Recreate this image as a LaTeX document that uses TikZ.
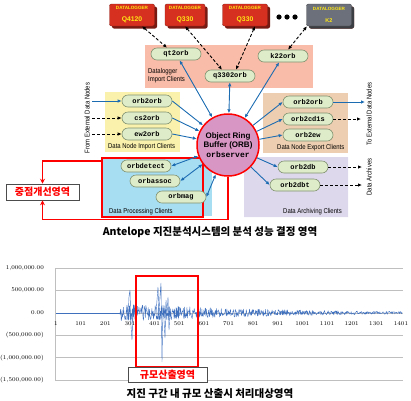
\documentclass[tikz,border=0pt]{standalone}
\usepackage{fontspec}
\usetikzlibrary{arrows.meta,shadows}
\setmonofont{Liberation Mono}
\newfontfamily\krfont{Noto Sans CJK KR}
\newfontfamily\arialfont{Liberation Sans}
\newfontfamily\narrowfont[FakeStretch=0.85]{Liberation Sans}

\definecolor{dlred}{RGB}{214,48,32}
\definecolor{dlgray}{RGB}{108,112,122}
\definecolor{dltext}{RGB}{255,232,20}
\definecolor{salmon}{RGB}{248,188,168}
\definecolor{paleyellow}{RGB}{250,241,172}
\definecolor{peach}{RGB}{238,206,176}
\definecolor{lavender}{RGB}{222,216,236}
\definecolor{skyblue}{RGB}{168,222,242}
\definecolor{pillgreen}{RGB}{222,236,202}
\definecolor{pillborder}{RGB}{128,146,112}
\definecolor{orbfill}{RGB}{216,150,196}
\definecolor{flowblue}{RGB}{28,108,178}
\definecolor{seriesblue}{RGB}{62,112,190}

\begin{document}
\begin{tikzpicture}[x=1pt, y=-1pt,
  dlbox/.style={rounded corners=2pt, fill=dlred, draw=dlred!65!black, line width=0.4pt,
    minimum width=45, minimum height=22, inner sep=0, align=center, text=dltext,
    font=\arialfont\bfseries,
    drop shadow={shadow xshift=2.5pt, shadow yshift=-2.5pt, fill=dlred!55!black, opacity=1}},
  pill/.style={rounded corners=6pt, fill=pillgreen, draw=pillborder, line width=0.6pt,
    minimum width=50, minimum height=12, inner sep=0,
    font=\ttfamily\bfseries\fontsize{7}{7}\selectfont},
  region/.style={font=\narrowfont\fontsize{7}{8}\selectfont, inner sep=0, align=left},
  flow/.style={flowblue, line width=0.9pt, -{Latex[length=4pt,width=3.5pt]}},
  biflow/.style={flowblue, line width=0.9pt, {Latex[length=4pt,width=3.5pt]}-{Latex[length=4pt,width=3.5pt]}},
  dlink/.style={black, line width=0.9pt, dashed, dash pattern=on 3pt off 2pt, -{Latex[length=4pt,width=3.5pt]}},
  bidlink/.style={black, line width=0.9pt, dash pattern=on 3pt off 2pt, {Latex[length=4pt,width=3.5pt]}-{Latex[length=4pt,width=3.5pt]}},
  redline/.style={red, line width=1.1pt, -{Stealth[length=5pt,width=5pt]}},
  focusbox/.style={draw=black!70, fill=white, line width=0.6pt, inner sep=0, text=red,
    font=\krfont\bfseries\fontsize{10}{10}\selectfont},
  title/.style={font=\krfont\bfseries\fontsize{10.5}{11}\selectfont, inner sep=0},
  gridline/.style={black!25, line width=0.6pt},
  axlab/.style={font=\fontsize{5.8}{6}\selectfont, inner sep=0},
  wave/.style={seriesblue, line width=0.4pt, line join=round},
  declare function={env(\t)=(\t<150)?8:8*exp((150-\t)/140);}]

\useasboundingbox (0,0) rectangle (411,400);

% client areas
\fill[salmon] (145,45) rectangle (313,88);
\fill[paleyellow] (105,92) rectangle (180,152);
\fill[peach] (263,93) rectangle (348,153);
\fill[lavender] (253,157) -- (348,157) -- (348,217) -- (244,217) -- (244,170) -- cycle;
\fill[skyblue] (103,157) rectangle (212,216);
\draw[red, line width=1.2pt] (102,158) rectangle (203,217);

\node[region, anchor=north west] (dlimp) at (148,68) {Datalogger\\Import Clients};
\node[region, anchor=west] (nodeimp) at (108,147) {Data Node Import Clients};
\node[region, anchor=west] (nodeexp) at (277,148) {Data Node Export Clients};
\node[region, anchor=west] (archcl) at (283,212) {Data Archiving Clients};
\node[region, anchor=west] (proccl) at (109,212) {Data Processing Clients};
\node[region, rotate=90] (fromext) at (87,118) {From External Data Nodes};
\node[region, rotate=90] (toext) at (369,114) {To External Data Nodes};
\node[region, rotate=90] (archives) at (369,177) {Data Archives};

% dataloggers
\node[dlbox] (q4120) at (132,15) {{\fontsize{4.6}{5.5}\selectfont DATALOGGER}\\{\fontsize{6.8}{8}\selectfont Q4120}};
\node[dlbox, minimum width=40] (q330a) at (185,15) {{\fontsize{4.6}{5.5}\selectfont DATALOGGER}\\{\fontsize{6.8}{8}\selectfont Q330}};
\node[dlbox] (q330b) at (245,15) {{\fontsize{4.6}{5.5}\selectfont DATALOGGER}\\{\fontsize{6.8}{8}\selectfont Q330}};
\node[dlbox, fill=dlgray, draw=dlgray!60!black,
  drop shadow={shadow xshift=2.5pt, shadow yshift=-2.5pt, fill=dlgray!55!black, opacity=1}]
  (k2) at (329,15) {{\fontsize{4.6}{5.5}\selectfont DATALOGGER}\\{\fontsize{5.5}{8}\selectfont K2}};
\foreach \i in {0,1,2}
  \fill[black] (279+8*\i,17) circle (2.6);

% ring buffer
\node[circle, draw=red, line width=1.5pt, fill=orbfill, minimum size=62, inner sep=0, align=center,
  font=\arialfont\bfseries\fontsize{8}{9.5}\selectfont] (orb) at (228,145)
  {Object Ring\\Buffer (ORB)\\{\ttfamily\bfseries orbserver}};

% clients
\node[pill] (qt2orb) at (176,54) {qt2orb};
\node[pill] (q3302orb) at (230,76) {q3302orb};
\node[pill] (k22orb) at (283,56) {k22orb};
\node[pill] (orbin) at (147,101) {orb2orb};
\node[pill] (cs2orb) at (147,118) {cs2orb};
\node[pill] (ew2orb) at (147,134) {ew2orb};
\node[pill] (orbout) at (308,102) {orb2orb};
\node[pill] (orb2cd1s) at (308,119) {orb2cd1s};
\node[pill] (orb2ew) at (308,135) {orb2ew};
\node[pill] (orb2db) at (303,167) {orb2db};
\node[pill] (orb2dbt) at (295,185) {orb2dbt};
\node[pill] (orbdetect) at (146,166) {orbdetect};
\node[pill] (orbassoc) at (155,181) {orbassoc};
\node[pill] (orbmag) at (181,197) {orbmag};

% datalogger links
\draw[bidlink] ([xshift=10pt]q4120.south) -- ([xshift=-9pt]qt2orb.north);
\draw[bidlink] (q330a.south) -- ([xshift=-8pt]q3302orb.north);
\draw[bidlink] ([xshift=10pt]q330b.south) -- ([xshift=6pt]q3302orb.north);
\draw[bidlink] ([xshift=-22pt]k2.south) -- ([xshift=5pt]k22orb.north);

% orb links
\draw[biflow] (qt2orb) -- (orb);
\draw[biflow] (q3302orb) -- (orb);
\draw[biflow] (k22orb) -- (orb);
\draw[flow] (orbin.east) -- (orb);
\draw[flow] (cs2orb.east) -- (orb);
\draw[flow] (ew2orb.east) -- (orb);
\draw[flow] (orb) -- (orbout.west);
\draw[flow] (orb) -- (orb2cd1s.west);
\draw[flow] (orb) -- (orb2ew.west);
\draw[flow] (orb) -- (orb2db.west);
\draw[flow] (orb) -- (orb2dbt.west);
\draw[biflow] (orb) -- (orbdetect.east);
\draw[biflow] (orb) -- (orbassoc.east);
\draw[biflow] (orb) -- (orbmag.east);

% external ends
\coordinate (extin1) at (92,101);
\coordinate (extin2) at (92,118);
\coordinate (extin3) at (92,134);
\coordinate (extout1) at (365,102);
\coordinate (extout2) at (361,119);
\coordinate (arch1) at (362,167);
\coordinate (arch2) at (362,185);
\draw[flow] (extin1) -- (orbin.west);
\draw[dlink] (extin2) -- (cs2orb.west);
\draw[dlink] (extin3) -- (ew2orb.west);
\draw[flow] (orbout.east) -- (extout1);
\draw[dlink] (orb2cd1s.east) -- (extout2);
\draw[dlink] (orb2db.east) -- (arch1);
\draw[dlink] (orb2dbt.east) -- (arch2);

% focus area
\node[focusbox, minimum width=73, minimum height=16] (focus) at (42.5,192) {중점개선영역};
\coordinate (procleft) at (102,161);
\draw[redline] (procleft) -| (focus.north);
\draw[redline] (orb.south) -- ++(0,43) -| (focus.south);

\node[title] (title1) at (210,232) {Antelope 지진분석시스템의 분석 성능 결정 영역};

% waveform chart
\foreach \k/\lab in {0/{1,000,000.00}, 1/{500,000.00}, 2/{0.00}, 3/{(500,000.00)}, 4/{(1,000,000.00)}, 5/{(1,500,000.00)}} {
  \draw[gridline] (55,268+22.4*\k) -- (403,268+22.4*\k);
  \node[axlab, anchor=east] (ylab\k) at (44,268+22.4*\k) {\lab};
}
\draw[gridline] (55,268) -- (55,380);
\foreach \n [count=\i from 0] in {1,101,...,1401}
  \node[axlab] (xlab\i) at (56+24.64*\i,324) {\n};

\pgfmathsetseed{7}
\draw[wave] (56,312.8) -- (120,312.8);
\draw[wave] plot[samples=700, domain=120:402] (\x,{312.8+env(\x)*rand});
\draw[wave] (126,312.8) -- (127,305) -- (128,320) -- (129,296) -- (130,290) -- (131,326) -- (132,340) -- (133,308) -- (134,312.8);
\draw[wave] (156,312.8) -- (157,300) -- (158,287) -- (159,318) -- (160,296) -- (161,283) -- (162,362) -- (163,305) -- (164,320) -- (165,338) -- (166,300) -- (167,316) -- (168,297) -- (169,330) -- (170,312.8);

\draw[red, line width=1.2pt] (136,276) rectangle (198,367);
\node[focusbox, minimum width=79, minimum height=15] (scalelab) at (167.5,374.5) {규모산출영역};

\node[title] (title2) at (210,394) {지진 구간 내 규모 산출시 처리대상영역};
\end{tikzpicture}
\end{document}
